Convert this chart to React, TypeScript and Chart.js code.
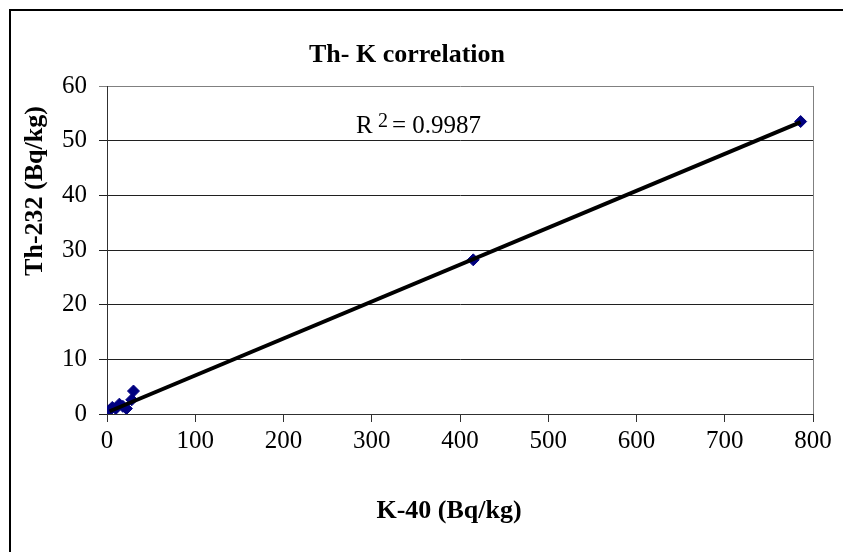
import React, { useEffect, useRef } from "react";
import { Chart, registerables } from "chart.js";

Chart.register(...registerables);

// ---- Data ----
const potassium = [3, 6, 10, 14, 18, 22, 28, 30, 415, 786];
const thorium = [0.7, 1.2, 1.0, 1.8, 1.4, 1.0, 2.6, 4.2, 28.2, 53.5];
const trendK = [3, 786];
const trendTh = [0.5, 53.4];
const xMin = 0;
const xMax = 800;
const xStep = 100;
const yMin = 0;
const yMax = 60;
const yStep = 10;
const chartTitle = "Th- K correlation";
const xTitle = "K-40 (Bq/kg)";
const yTitle = "Th-232 (Bq/kg)";
const rSquaredValue = "0.9987";

const FONT = '"Liberation Serif", "Times New Roman", serif';

const textPlugin = {
  id: "excelTexts",
  afterDraw(chart: any) {
    const { ctx, chartArea } = chart;
    ctx.save();
    // outer chart frame (only left & top are inside the picture)
    ctx.strokeStyle = "#000";
    ctx.lineWidth = 2;
    ctx.beginPath();
    ctx.moveTo(10, 600);
    ctx.lineTo(10, 10);
    ctx.lineTo(900, 10);
    ctx.stroke();

    // plot-area border right side
    ctx.strokeStyle = "#808080";
    ctx.lineWidth = 1;
    ctx.beginPath();
    ctx.moveTo(Math.round(chartArea.right) + 0.5, chartArea.top);
    ctx.lineTo(Math.round(chartArea.right) + 0.5, chartArea.bottom);
    ctx.stroke();

    ctx.fillStyle = "#000";
    // chart title
    ctx.font = `bold 26px ${FONT}`;
    ctx.textAlign = "center";
    ctx.textBaseline = "alphabetic";
    ctx.fillText(chartTitle, 407, 62);

    // x axis title
    ctx.fillText(xTitle, 449, 518);

    // y axis title
    ctx.save();
    ctx.translate(42, 191);
    ctx.rotate(-Math.PI / 2);
    ctx.fillText(yTitle, 0, 0);
    ctx.restore();

    // R² label
    ctx.textAlign = "left";
    ctx.font = `25px ${FONT}`;
    ctx.fillText("R", 356, 133);
    ctx.font = `20px ${FONT}`;
    ctx.fillText("2", 378, 127);
    ctx.font = `25px ${FONT}`;
    ctx.fillText("= " + rSquaredValue, 392, 133);
    ctx.restore();
  },
};

export default function App() {
  const ref = useRef<HTMLCanvasElement | null>(null);

  useEffect(() => {
    if (!ref.current) return;
    const chart = new Chart(ref.current, {
      type: "scatter",
      data: {
        datasets: [
          {
            type: "line",
            label: "trend",
            data: trendK.map((k, i) => ({ x: k, y: trendTh[i] })),
            borderColor: "#000",
            borderWidth: 4,
            pointRadius: 0,
            fill: false,
            order: 0,
          },
          {
            label: "Th vs K",
            data: potassium.map((k, i) => ({ x: k, y: thorium[i] })),
            pointStyle: "rectRot",
            pointRadius: 6,
            backgroundColor: "#000080",
            borderColor: "#000080",
            borderWidth: 1,
            order: 1,
          },
        ],
      },
      options: {
        animation: false,
        responsive: false,
        devicePixelRatio: 1,
        layout: { padding: { top: 86, right: 30, left: 0, bottom: 0 } },
        plugins: {
          legend: { display: false },
          tooltip: { enabled: false },
          title: { display: false },
        },
        scales: {
          x: {
            type: "linear",
            min: xMin,
            max: xMax,
            ticks: {
              stepSize: xStep,
              color: "#000",
              font: { family: FONT, size: 25 },
              padding: 4,
            },
            grid: {
              drawOnChartArea: false,
              drawTicks: true,
              tickLength: 8,
              color: "#303030",
            },
            border: { color: "#303030", width: 1 },
            afterFit: (s: any) => {
              s.height = 138;
            },
          },
          y: {
            type: "linear",
            min: yMin,
            max: yMax,
            ticks: {
              stepSize: yStep,
              color: "#000",
              font: { family: FONT, size: 25 },
              padding: 12,
            },
            grid: {
              drawTicks: true,
              tickLength: 8,
              color: (c: any) => (c.tick && c.tick.value === yMax ? "#808080" : "#202020"),
            },
            border: { color: "#303030", width: 1 },
            afterFit: (s: any) => {
              s.width = 107;
            },
          },
        },
      },
      plugins: [textPlugin],
    });
    return () => chart.destroy();
  }, []);

  return (
    <div style={{ position: "fixed", left: 0, top: 0, width: 843, height: 552, background: "#fff" }}>
      <canvas ref={ref} width={843} height={552} style={{ display: "block" }} />
    </div>
  );
}
